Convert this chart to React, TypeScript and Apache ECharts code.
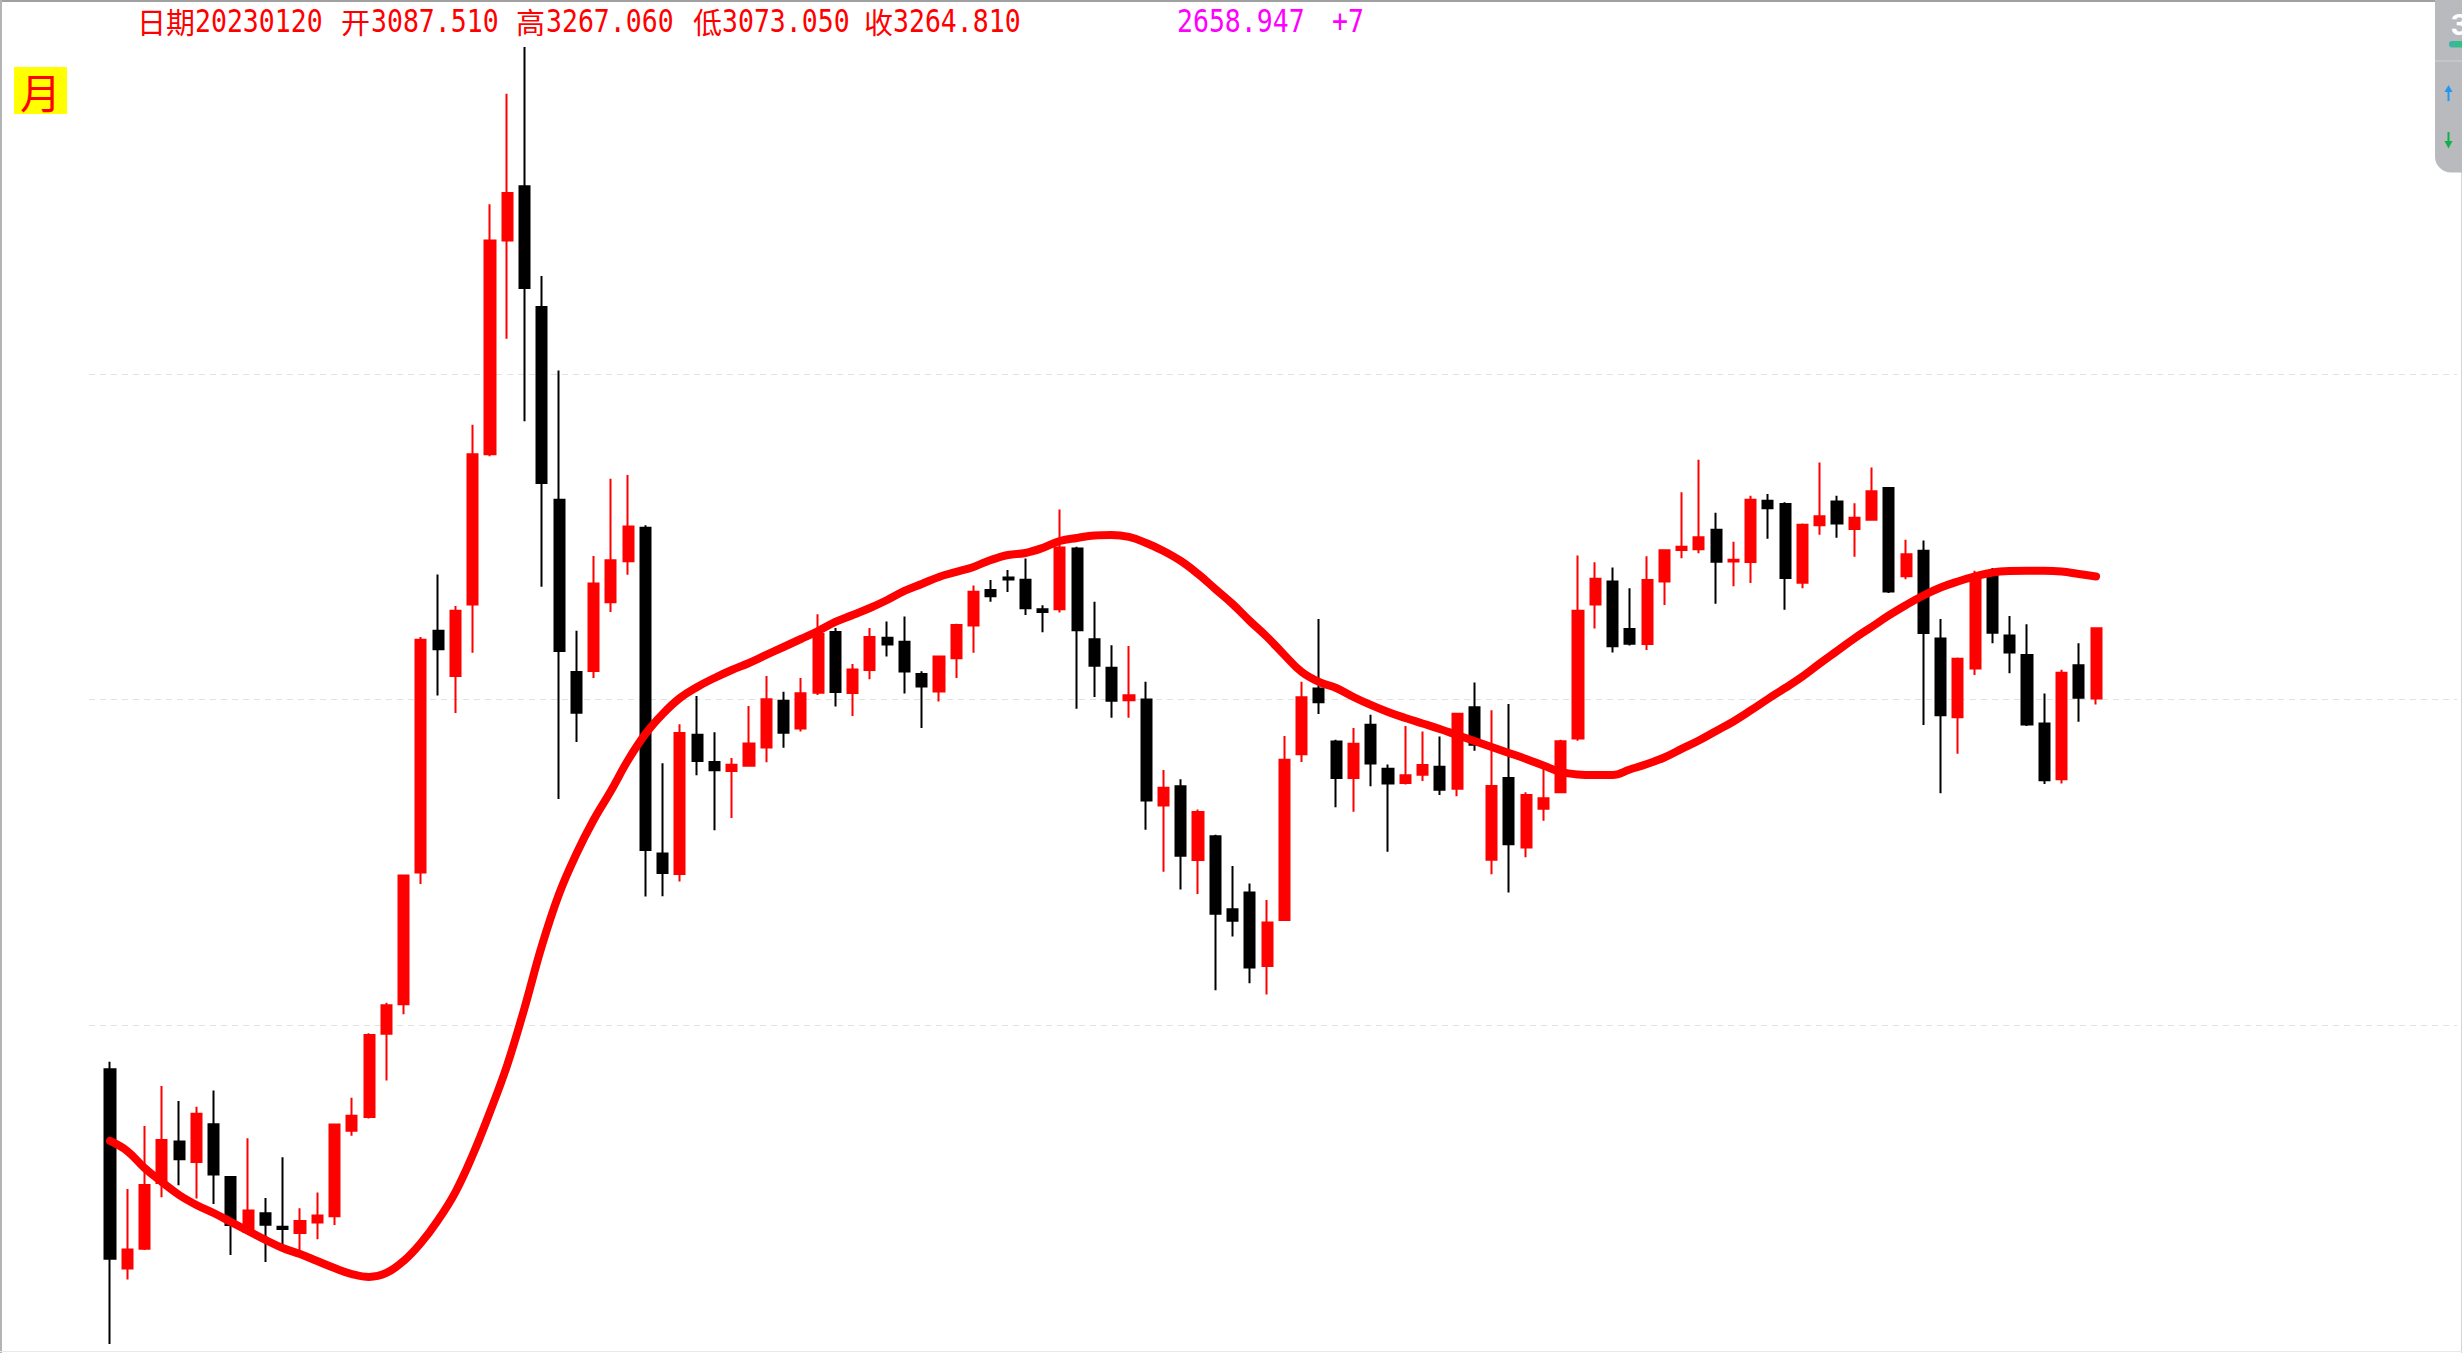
import React, { useEffect, useRef } from "react";
import * as echarts from "echarts";

// Monthly candles, June 2013 .. January 2023
const START_YEAR = 2013;
const START_MONTH = 6;
const PAD_SLOTS = 20;

const opens = [
  2300.59, 1964, 1995, 2102, 2172, 2137, 2202, 2112, 2022, 2052,
  2030, 2020, 2037, 2047, 2191, 2215, 2366, 2422, 2689, 3258,
  3143, 3327, 3748, 4441, 4637, 4213, 3615, 3153, 3156, 3333,
  3443, 3536, 2730, 2686, 3000, 2936, 2915, 2927, 2970, 3082,
  3015, 3102, 3255, 3101, 3158, 3240, 3230, 3148, 3105, 3188,
  3272, 3365, 3399, 3393, 3314, 3314, 3478, 3236, 3164, 3083,
  3085, 2836, 2880, 2716, 2768, 2612, 2647, 2497, 2590, 2954,
  3112, 2984, 2899, 3024, 2920, 2887, 2906, 2925, 2874, 3066,
  2716.7, 2899, 2743, 2829, 2866, 2991, 3327, 3388, 3262.61, 3224,
  3388, 3474, 3476, 3530, 3442, 3441, 3612, 3603, 3385, 3543,
  3610, 3532, 3558, 3649, 3402, 3472, 3238, 3042, 3162, 3402,
  3246, 3196, 3027, 2896, 3170, 3087.51,
];
const highs = [
  2314, 2092, 2199, 2270, 2243, 2233, 2262, 2113, 2178, 2077,
  2145, 2060, 2086, 2202, 2249, 2367, 2425, 2685, 3242, 3406.79,
  3323, 3837, 4571, 4990, 5178.19, 4318, 4006, 3258, 3457, 3676,
  3687, 3543, 2933, 3025, 3094, 3006, 2945, 3069, 3143, 3104,
  3138, 3301, 3265, 3173, 3265, 3282, 3295, 3155, 3194, 3276,
  3377, 3392, 3419, 3450.49, 3325, 3587.03, 3483, 3334, 3221, 3219,
  3129, 2917, 2896, 2827, 2771, 2703, 2666, 2631, 2997, 3129,
  3288.45, 2988, 3016, 3048, 2930, 3021, 3008, 2996, 3051, 3127.17,
  3059, 3074.26, 2866, 2922, 2988, 3458.79, 3440, 3425.63, 3370, 3456.73,
  3474.5, 3637, 3731.69, 3578, 3497, 3627, 3632, 3608, 3548, 3723.85,
  3627, 3605, 3708.94, 3651, 3502, 3500, 3289, 3190, 3417, 3424.84,
  3296.36, 3275, 3100, 3159, 3226, 3267.06,
];
const lows = [
  1849.65, 1947, 1993, 2078, 2098, 2076, 2067, 1985, 2021, 1974,
  2001, 1988, 2010, 2033, 2182, 2212, 2280, 2403, 2665, 3095.07,
  3052, 3202, 3742, 4108, 3848, 3374, 2850.71, 2983, 3138, 3307,
  3406, 2638.3, 2638.96, 2670, 2905, 2781, 2808, 2925, 2935, 2969,
  3008, 3096, 3068, 3045, 3135, 3192, 3100, 3016, 3080, 3138,
  3202, 3334, 3360, 3299, 3254, 3306, 3062.74, 3091, 3041, 3041,
  2782, 2691, 2653, 2644, 2449.2, 2556, 2463, 2440.91, 2589, 2936,
  3050, 2832, 2822, 2880, 2733.92, 2884, 2892, 2860, 2857, 2962,
  2685.27, 2646.81, 2722, 2802, 2866, 2986, 3264, 3202.34, 3220, 3209,
  3325.17, 3451, 3465, 3328.51, 3375, 3384, 3505, 3312.72, 3370, 3516,
  3508, 3455, 3556, 3357, 3394, 3023.3, 2863.65, 2955, 3146, 3226.23,
  3150, 3021, 2885.09, 2886, 3031, 3073.05,
];
const closes = [
  1979.21, 1993.8, 2098.38, 2174.67, 2141.61, 2220.5, 2115.98, 2033.08, 2056.3, 2033.31,
  2026.36, 2039.21, 2048.33, 2201.56, 2217.2, 2363.87, 2420.18, 2682.83, 3234.68, 3210.36,
  3310.3, 3747.9, 4441.66, 4611.74, 4277.22, 3663.73, 3205.99, 3052.78, 3382.56, 3445.4,
  3539.18, 2737.6, 2687.98, 3003.92, 2938.32, 2916.62, 2929.61, 2979.34, 3085.49, 3004.7,
  3100.49, 3250.03, 3103.64, 3159.17, 3241.73, 3222.51, 3154.66, 3117.18, 3192.43, 3273.03,
  3360.81, 3348.94, 3393.34, 3317.19, 3307.17, 3480.83, 3259.41, 3168.9, 3082.23, 3095.47,
  2847.42, 2876.4, 2725.25, 2821.35, 2602.78, 2588.19, 2493.9, 2584.57, 2940.95, 3090.76,
  3078.34, 2898.7, 2978.88, 2932.51, 2886.24, 2905.19, 2929.06, 2871.98, 3050.12, 2976.53,
  2880.3, 2750.3, 2860.08, 2852.35, 2984.67, 3310.01, 3395.68, 3218.05, 3224.53, 3391.76,
  3473.07, 3483.07, 3509.08, 3441.91, 3446.86, 3615.48, 3591.2, 3397.36, 3543.94, 3568.17,
  3547.34, 3563.89, 3639.78, 3361.44, 3462.31, 3252.2, 3047.06, 3186.43, 3398.62, 3253.24,
  3202.14, 3024.39, 2893.48, 3151.34, 3089.26, 3264.81,
];
// smoothed red curve
const curve = [
  2173.1, 2155.8, 2127.0, 2103.4, 2081.9, 2065.5, 2052.4, 2037.8, 2023.3, 2008.9,
  1996.1, 1986.6, 1975.6, 1964.6, 1955.3, 1950.7, 1956.9, 1975.6, 2004.1, 2041.0,
  2086.8, 2149.0, 2223.7, 2308.2, 2415.0, 2536.8, 2643.8, 2729.1, 2803.7, 2869.0,
  2940.5, 3001.8, 3049.9, 3088.8, 3116.0, 3138.3, 3158.3, 3175.9, 3196.2, 3216.4,
  3236.9, 3257.5, 3280.9, 3299.2, 3317.6, 3338.7, 3362.7, 3381.4, 3400.3, 3413.8,
  3427.4, 3446.5, 3460.2, 3465.7, 3479.5, 3498.8, 3507.2, 3514.2, 3515.6, 3510.0,
  3493.3, 3471.2, 3443.8, 3408.4, 3368.0, 3328.1, 3283.5, 3242.0, 3196.2, 3153.3,
  3128.3, 3113.5, 3091.3, 3071.8, 3054.7, 3040.2, 3027.0, 3013.8, 2999.4, 2985.2,
  2971.0, 2957.0, 2942.8, 2927.7, 2912.6, 2906.8, 2905.6, 2905.6, 2918.4, 2931.2,
  2946.3, 2966.4, 2986.4, 3009.0, 3031.8, 3058.4, 3086.4, 3113.5, 3142.0, 3174.6,
  3206.3, 3238.2, 3267.9, 3297.9, 3325.5, 3350.7, 3372.0, 3388.2, 3401.7, 3412.5,
  3416.6, 3417.4, 3417.4, 3415.2, 3408.4, 3401.7,
];

// header texts
const HEAD_DATE = "20230120";
const HEAD_OPEN = "3087.510";
const HEAD_HIGH = "3267.060";
const HEAD_LOW = "3073.050";
const HEAD_CLOSE = "3264.810";
const HEAD_EXTRA = "2658.947";
const HEAD_DELTA = "+7";
const PERIOD_LABEL = "月";

const RED = "#ff0000";
const MAGENTA = "#ff00ff";
const CJK_FONT = "'Noto Sans CJK SC', sans-serif";
const NUM_FONT = "'DejaVu Sans Mono', monospace";

const monthLabels = opens.map((_, i) => {
  const m = START_MONTH - 1 + i;
  return `${START_YEAR + Math.floor(m / 12)}-${String((m % 12) + 1).padStart(2, "0")}`;
});
const padLabels = Array.from({ length: PAD_SLOTS }, (_, k) => `pad-${k + 1}`);
const categories = [...monthLabels, ...padLabels];
const kData = opens.map((o, i) => [o, closes[i], lows[i], highs[i]]);
const yMin = Math.min(...lows);
const yMax = Math.max(...highs);

const HEAD_Y = 21;
function cjkText(text: string, x: number, color: string) {
  return {
    type: "text",
    x,
    y: HEAD_Y,
    silent: true,
    style: { text, fill: color, fontFamily: CJK_FONT, fontSize: 29, textVerticalAlign: "middle" },
  };
}
function numText(text: string, x: number, color: string) {
  return {
    type: "text",
    x,
    y: HEAD_Y,
    scaleY: 1.2,
    silent: true,
    style: { text, fill: color, fontFamily: NUM_FONT, fontSize: 26.5, textVerticalAlign: "middle" },
  };
}

function buildOption() {
  return {
    animation: false,
    backgroundColor: "#ffffff",
    grid: [
      { left: 101.4, top: 47.1, width: 2348.7, height: 1296.9, show: false },
      { left: 89, top: 49, width: 2368, height: 1301, show: false },
    ],
    xAxis: [
      { type: "category", gridIndex: 0, data: categories, boundaryGap: true, show: false },
      { type: "value", gridIndex: 1, min: 0, max: 1, show: false },
    ],
    yAxis: [
      { type: "log", gridIndex: 0, logBase: 10, min: yMin, max: yMax, show: false, splitLine: { show: false } },
      {
        type: "value",
        gridIndex: 1,
        min: 0,
        max: 4,
        interval: 1,
        show: true,
        axisLine: { show: false },
        axisTick: { show: false },
        axisLabel: { show: false },
        splitLine: {
          show: true,
          lineStyle: {
            color: ["rgba(0,0,0,0)", "#e2e2e2", "#e2e2e2", "#e2e2e2"],
            type: [6, 5],
            width: 1,
          },
        },
      },
    ],
    series: [
      {
        type: "candlestick",
        xAxisIndex: 0,
        yAxisIndex: 0,
        data: kData,
        barWidth: 10.6,
        z: 3,
        itemStyle: {
          color: RED,
          color0: "#000000",
          borderColor: RED,
          borderColor0: "#000000",
          borderWidth: 2,
        },
      },
      {
        type: "line",
        xAxisIndex: 0,
        yAxisIndex: 0,
        data: curve,
        smooth: 0.4,
        showSymbol: false,
        symbol: "none",
        z: 4,
        lineStyle: { color: RED, width: 8, cap: "round", join: "round" },
      },
    ],
    graphic: [
      // frame
      { type: "line", silent: true, shape: { x1: 0, y1: 1, x2: 2462, y2: 1 }, style: { stroke: "#a0a0a0", lineWidth: 2 } },
      { type: "line", silent: true, shape: { x1: 1, y1: 0, x2: 1, y2: 1353 }, style: { stroke: "#b4b4b4", lineWidth: 2 } },
      { type: "line", silent: true, shape: { x1: 2461.5, y1: 0, x2: 2461.5, y2: 1353 }, style: { stroke: "#d4d4d4", lineWidth: 1 } },
      { type: "line", silent: true, shape: { x1: 0, y1: 1351.5, x2: 2462, y2: 1351.5 }, style: { stroke: "#e8e8e8", lineWidth: 1 } },
      // period label
      { type: "rect", silent: true, shape: { x: 14, y: 67, width: 53, height: 47 }, style: { fill: "#ffff00" } },
      {
        type: "text",
        silent: true,
        x: 40.5,
        y: 91,
        style: {
          text: PERIOD_LABEL,
          fill: RED,
          fontFamily: CJK_FONT,
          fontSize: 41,
          textAlign: "center",
          textVerticalAlign: "middle",
        },
      },
      // header
      cjkText("日期", 137, RED),
      numText(HEAD_DATE, 195, RED),
      cjkText("开", 341, RED),
      numText(HEAD_OPEN, 371, RED),
      cjkText("高", 516, RED),
      numText(HEAD_HIGH, 546, RED),
      cjkText("低", 693, RED),
      numText(HEAD_LOW, 722, RED),
      cjkText("收", 864, RED),
      numText(HEAD_CLOSE, 893, RED),
      numText(HEAD_EXTRA, 1177, MAGENTA),
      numText(HEAD_DELTA, 1332, MAGENTA),
      // right side panel
      {
        type: "rect",
        silent: true,
        shape: { x: 2435, y: -10, width: 40, height: 182.5, r: [0, 0, 0, 16] },
        style: { fill: "#b9babe" },
      },
      {
        type: "text",
        silent: true,
        x: 2451,
        y: 24,
        style: { text: "3", fill: "#ffffff", fontFamily: "Roboto, sans-serif", fontWeight: "bold", fontSize: 30, textVerticalAlign: "middle" },
      },
      {
        type: "rect",
        silent: true,
        shape: { x: 2449, y: 41, width: 20, height: 6.5, r: 3 },
        style: {
          fill: new echarts.graphic.LinearGradient(0, 0, 1, 0, [
            { offset: 0, color: "#3db3aa" },
            { offset: 1, color: "#2ec866" },
          ]),
        },
      },
      { type: "line", silent: true, shape: { x1: 2435, y1: 61, x2: 2462, y2: 61 }, style: { stroke: "#cfd0d4", lineWidth: 1 } },
      { type: "line", silent: true, shape: { x1: 2448.5, y1: 91, x2: 2448.5, y2: 101 }, style: { stroke: "#2196f3", lineWidth: 2 } },
      { type: "polygon", silent: true, shape: { points: [[2444.5, 92], [2448.5, 85], [2452.5, 92]] }, style: { fill: "#2196f3" } },
      { type: "line", silent: true, shape: { x1: 2448.5, y1: 132, x2: 2448.5, y2: 142 }, style: { stroke: "#10b04a", lineWidth: 2 } },
      { type: "polygon", silent: true, shape: { points: [[2444.5, 141], [2448.5, 148.5], [2452.5, 141]] }, style: { fill: "#10b04a" } },
    ],
  };
}

export default function App() {
  const ref = useRef<HTMLDivElement>(null);
  useEffect(() => {
    document.body.style.margin = "0";
    const chart = echarts.init(ref.current as HTMLDivElement, null, { renderer: "svg" });
    chart.setOption(buildOption() as any);
    return () => {
      chart.dispose();
    };
  }, []);
  return (
    <div
      ref={ref}
      style={{ position: "fixed", left: 0, top: 0, width: 2462, height: 1353, background: "#ffffff" }}
    />
  );
}
